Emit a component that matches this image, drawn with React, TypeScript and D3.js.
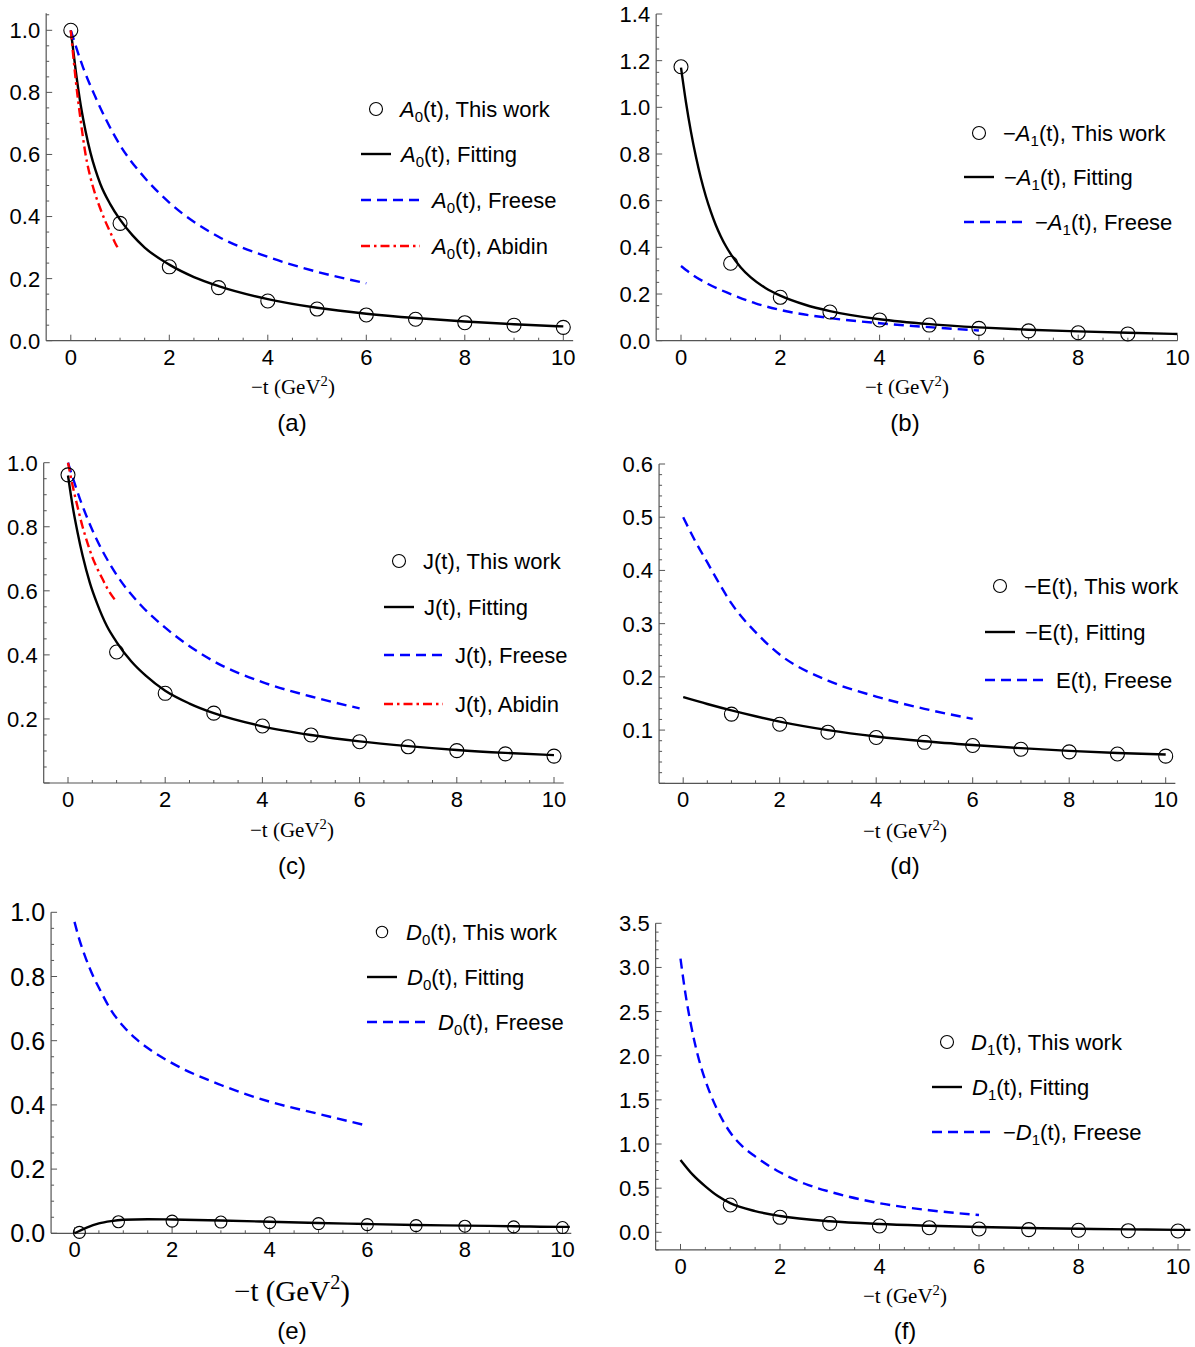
import React from 'react';
import * as d3 from 'd3';

const SANS = '"Liberation Sans", Arial, Helvetica, sans-serif';
const SERIF = '"Liberation Serif", "Times New Roman", serif';
const BLUE = '#0000ff';
const RED = '#ff0000';
const AXIS = '#555555';

const xMajorTicks = [0, 2, 4, 6, 8, 10];

// (a) A0(t)
const aT = [0, 1, 2, 3, 4, 5, 6, 7, 8, 9, 10];
const aThisWork = [1.0, 0.378, 0.238, 0.171, 0.128, 0.102, 0.083, 0.069, 0.058, 0.05, 0.043];
const aFitT = [0, 0.1, 0.2, 0.3, 0.4, 0.5, 0.6, 0.8, 1, 1.25, 1.5, 2, 2.5, 3, 4, 5, 6, 7, 8, 9, 10];
const aFit = [1.0, 0.87, 0.76, 0.675, 0.605, 0.55, 0.505, 0.44, 0.39, 0.34, 0.3, 0.245, 0.205, 0.176, 0.134, 0.106, 0.087, 0.073, 0.062, 0.053, 0.046];
const aFreeseT = [0, 0.25, 0.5, 1, 1.5, 2, 3, 4, 5, 6];
const aFreese = [1.0, 0.88, 0.785, 0.63, 0.525, 0.445, 0.335, 0.27, 0.222, 0.185];
const aAbidinT = [0, 0.1, 0.2, 0.3, 0.4, 0.5, 0.6, 0.7, 0.8, 0.9, 0.97];
const aAbidin = [1.0, 0.84, 0.71, 0.6, 0.525, 0.47, 0.425, 0.385, 0.35, 0.315, 0.295];

// (b) -A1(t)
const bT = [0, 1, 2, 3, 4, 5, 6, 7, 8, 9];
const bThisWork = [1.174, 0.332, 0.186, 0.123, 0.089, 0.067, 0.053, 0.042, 0.034, 0.029];
const bFitT = [0, 0.1, 0.2, 0.3, 0.4, 0.5, 0.6, 0.7, 0.8, 0.9, 1, 1.2, 1.4, 1.7, 2, 2.5, 3, 4, 5, 6, 7, 8, 9, 10];
const bFit = [1.17, 1.022, 0.896, 0.789, 0.697, 0.619, 0.553, 0.496, 0.448, 0.407, 0.372, 0.315, 0.272, 0.226, 0.193, 0.154, 0.127, 0.092, 0.071, 0.057, 0.047, 0.04, 0.034, 0.029];
const bFreeseT = [0, 0.25, 0.5, 1, 1.5, 2, 3, 4, 5, 6];
const bFreese = [0.32, 0.28, 0.248, 0.2, 0.16, 0.132, 0.097, 0.075, 0.058, 0.044];

// (c) J(t)
const cT = [0, 1, 2, 3, 4, 5, 6, 7, 8, 9, 10];
const cThisWork = [0.962, 0.409, 0.28, 0.218, 0.178, 0.15, 0.129, 0.113, 0.101, 0.091, 0.084];
const cFitT = [0, 0.1, 0.2, 0.3, 0.45, 0.6, 0.8, 1, 1.3, 1.6, 2, 2.5, 3, 4, 5, 6, 7, 8, 9, 10];
const cFit = [0.96, 0.86, 0.78, 0.71, 0.625, 0.56, 0.49, 0.44, 0.38, 0.335, 0.288, 0.248, 0.218, 0.177, 0.15, 0.13, 0.115, 0.103, 0.094, 0.087];
const cFreeseT = [0, 0.25, 0.5, 1, 1.5, 2, 3, 4, 5, 6];
const cFreese = [1.0, 0.885, 0.79, 0.65, 0.555, 0.485, 0.38, 0.315, 0.27, 0.233];
const cAbidinT = [0, 0.1, 0.2, 0.3, 0.4, 0.5, 0.6, 0.7, 0.8, 0.96];
const cAbidin = [1.0, 0.925, 0.86, 0.8, 0.75, 0.705, 0.67, 0.64, 0.61, 0.573];

// (d) -E(t)
const dT = [1, 2, 3, 4, 5, 6, 7, 8, 9, 10];
const dThisWork = [0.13, 0.111, 0.096, 0.086, 0.077, 0.071, 0.064, 0.059, 0.055, 0.051];
const dFitT = [0, 0.5, 1, 1.5, 2, 3, 4, 5, 6, 7, 8, 9, 10];
const dFit = [0.162, 0.149, 0.137, 0.126, 0.116, 0.1, 0.088, 0.079, 0.072, 0.066, 0.061, 0.057, 0.054];
const dFreeseT = [0, 0.25, 0.5, 0.75, 1, 1.5, 2, 3, 4, 5, 6];
const dFreese = [0.5, 0.455, 0.415, 0.375, 0.338, 0.284, 0.242, 0.193, 0.163, 0.14, 0.121];

// (e) D0(t)
const eT = [0.1, 0.9, 2, 3, 4, 5, 6, 7, 8, 9, 10];
const eThisWork = [0.003, 0.036, 0.038, 0.035, 0.033, 0.03, 0.027, 0.024, 0.022, 0.02, 0.018];
const eFitT = [0, 0.25, 0.5, 0.75, 1, 1.5, 2, 3, 4, 5, 6, 7, 8, 9, 10, 10.15];
const eFit = [0.0, 0.018, 0.031, 0.038, 0.042, 0.044, 0.043, 0.04, 0.036, 0.032, 0.029, 0.026, 0.024, 0.022, 0.02, 0.02];
const eFreeseT = [0, 0.1, 0.2, 0.3, 0.4, 0.5, 0.75, 1, 1.25, 1.5, 2, 3, 4, 5, 6];
const eFreese = [0.97, 0.915, 0.87, 0.83, 0.795, 0.765, 0.695, 0.645, 0.607, 0.577, 0.53, 0.462, 0.41, 0.372, 0.335];

// (f) D1(t)
const fT = [1, 2, 3, 4, 5, 6, 7, 8, 9, 10];
const fThisWork = [0.309, 0.17, 0.1, 0.071, 0.052, 0.037, 0.03, 0.023, 0.018, 0.015];
const fFitT = [0, 0.25, 0.5, 0.75, 1, 1.5, 2, 3, 4, 5, 6, 7, 8, 9, 10, 10.25];
const fFit = [0.82, 0.65, 0.52, 0.41, 0.33, 0.24, 0.185, 0.125, 0.094, 0.075, 0.06, 0.049, 0.04, 0.033, 0.028, 0.027];
const fFreeseT = [0, 0.1, 0.2, 0.35, 0.5, 0.65, 0.8, 1, 1.25, 1.5, 2, 2.5, 3, 4, 5, 6];
const fFreese = [3.1, 2.7, 2.38, 2.0, 1.72, 1.5, 1.32, 1.13, 0.97, 0.86, 0.68, 0.55, 0.46, 0.33, 0.25, 0.196];

type Kind = 'circle' | 'solid' | 'dashed' | 'dashdot';
type Seg = { s: string; it?: boolean; sub?: boolean };

const sym = (pre: string, letter: string, sub: string, rest: string, italic = true): Seg[] => {
  const out: Seg[] = [];
  if (pre) out.push({ s: pre });
  out.push({ s: letter, it: italic });
  if (sub) out.push({ s: sub, sub: true });
  out.push({ s: rest });
  return out;
};

const styleOf = (k: Kind) => {
  if (k === 'dashed') return { stroke: BLUE, dash: '10,6' };
  if (k === 'dashdot') return { stroke: RED, dash: '9,4,2.5,4' };
  return { stroke: '#000', dash: undefined };
};

const panels = [
  {
    caption: '(a)', x0: 70.8, xUnit: 49.25, xMin: -0.5, xMax: 10.2,
    y0: 340.7, yRefPx: 30.3, yRefVal: 1.0, yMin: 0, yMax: 1.055,
    yMajor: 0.2, yMinor: 0.05, yLabelMin: 0, yTickFs: 22,
    pts: [aT, aThisWork], r: 7,
    curves: [
      { kind: 'solid' as Kind, t: aFitT, v: aFit },
      { kind: 'dashed' as Kind, t: aFreeseT, v: aFreese },
      { kind: 'dashdot' as Kind, t: aAbidinT, v: aAbidin },
    ],
    legX: 361, legY: [109, 154, 200, 246], legR: 6.5,
    legend: [
      { kind: 'circle' as Kind, label: sym('', 'A', '0', '(t), This work') },
      { kind: 'solid' as Kind, label: sym('', 'A', '0', '(t), Fitting') },
      { kind: 'dashed' as Kind, label: sym('', 'A', '0', '(t), Freese') },
      { kind: 'dashdot' as Kind, label: sym('', 'A', '0', '(t), Abidin') },
    ],
    titleX: 293, titleY: 394, titleFs: 21, capX: 292, capY: 431,
  },
  {
    caption: '(b)', x0: 681, xUnit: 49.65, xMin: -0.5, xMax: 10.0,
    y0: 340.7, yRefPx: 14, yRefVal: 1.4, yMin: 0, yMax: 1.4,
    yMajor: 0.2, yMinor: 0.05, yLabelMin: 0, yTickFs: 22,
    pts: [bT, bThisWork], r: 7,
    curves: [
      { kind: 'solid' as Kind, t: bFitT, v: bFit },
      { kind: 'dashed' as Kind, t: bFreeseT, v: bFreese },
    ],
    legX: 964, legY: [133, 177, 222], legR: 6.5,
    legend: [
      { kind: 'circle' as Kind, label: sym('\u2212', 'A', '1', '(t), This work') },
      { kind: 'solid' as Kind, label: sym('\u2212', 'A', '1', '(t), Fitting') },
      { kind: 'dashed' as Kind, label: sym('\u2212', 'A', '1', '(t), Freese') },
    ],
    titleX: 907, titleY: 394, titleFs: 21, capX: 905, capY: 431,
  },
  {
    caption: '(c)', x0: 68, xUnit: 48.6, xMin: -0.5, xMax: 10.2,
    y0: 783, yRefPx: 462.7, yRefVal: 1.0, yMin: 0, yMax: 1.0,
    yMajor: 0.2, yMinor: 0.05, yLabelMin: 0.1, yTickFs: 22,
    pts: [cT, cThisWork], r: 7,
    curves: [
      { kind: 'solid' as Kind, t: cFitT, v: cFit },
      { kind: 'dashed' as Kind, t: cFreeseT, v: cFreese },
      { kind: 'dashdot' as Kind, t: cAbidinT, v: cAbidin },
    ],
    legX: 384, legY: [561, 607, 655, 704], legR: 6.5,
    legend: [
      { kind: 'circle' as Kind, label: sym('', 'J', '', '(t), This work', false) },
      { kind: 'solid' as Kind, label: sym('', 'J', '', '(t), Fitting', false) },
      { kind: 'dashed' as Kind, label: sym('', 'J', '', '(t), Freese', false) },
      { kind: 'dashdot' as Kind, label: sym('', 'J', '', '(t), Abidin', false) },
    ],
    titleX: 292, titleY: 837, titleFs: 21, capX: 292, capY: 874,
  },
  {
    caption: '(d)', x0: 683.2, xUnit: 48.25, xMin: -0.5, xMax: 10.2,
    y0: 783.3, yRefPx: 464, yRefVal: 0.6, yMin: 0, yMax: 0.6,
    yMajor: 0.1, yMinor: 0.02, yLabelMin: 0.05, yTickFs: 22,
    pts: [dT, dThisWork], r: 7,
    curves: [
      { kind: 'solid' as Kind, t: dFitT, v: dFit },
      { kind: 'dashed' as Kind, t: dFreeseT, v: dFreese },
    ],
    legX: 985, legY: [586, 632, 680], legR: 6.5,
    legend: [
      { kind: 'circle' as Kind, label: sym('\u2212', 'E', '', '(t), This work', false) },
      { kind: 'solid' as Kind, label: sym('\u2212', 'E', '', '(t), Fitting', false) },
      { kind: 'dashed' as Kind, label: sym('', 'E', '', '(t), Freese', false) },
    ],
    titleX: 905, titleY: 838, titleFs: 21, capX: 905, capY: 874,
  },
  {
    caption: '(e)', x0: 74.5, xUnit: 48.8, xMin: -0.48, xMax: 10.18,
    y0: 1233.3, yRefPx: 912.3, yRefVal: 1.0, yMin: 0, yMax: 1.0,
    yMajor: 0.2, yMinor: 0.05, yLabelMin: 0, yTickFs: 25,
    pts: [eT, eThisWork], r: 6,
    curves: [
      { kind: 'solid' as Kind, t: eFitT, v: eFit },
      { kind: 'dashed' as Kind, t: eFreeseT, v: eFreese },
    ],
    legX: 367, legY: [932, 977, 1022], legR: 5.7,
    legend: [
      { kind: 'circle' as Kind, label: sym('', 'D', '0', '(t), This work') },
      { kind: 'solid' as Kind, label: sym('', 'D', '0', '(t), Fitting') },
      { kind: 'dashed' as Kind, label: sym('', 'D', '0', '(t), Freese') },
    ],
    titleX: 292, titleY: 1301, titleFs: 29, capX: 292, capY: 1339,
  },
  {
    caption: '(f)', x0: 680.5, xUnit: 49.75, xMin: -0.5, xMax: 10.25,
    y0: 1232.3, yRefPx: 923.3, yRefVal: 3.5, yMin: -0.2, yMax: 3.5,
    yMajor: 0.5, yMinor: 0.1, yLabelMin: 0, yTickFs: 22,
    pts: [fT, fThisWork], r: 7,
    curves: [
      { kind: 'solid' as Kind, t: fFitT, v: fFit },
      { kind: 'dashed' as Kind, t: fFreeseT, v: fFreese },
    ],
    legX: 932, legY: [1042, 1087, 1132], legR: 6.5,
    legend: [
      { kind: 'circle' as Kind, label: sym('', 'D', '1', '(t), This work') },
      { kind: 'solid' as Kind, label: sym('', 'D', '1', '(t), Fitting') },
      { kind: 'dashed' as Kind, label: sym('\u2212', 'D', '1', '(t), Freese') },
    ],
    titleX: 905, titleY: 1303, titleFs: 21, capX: 905, capY: 1339,
  },
];

type P = typeof panels[number];

function LegendText({ x, y, segs }: { x: number; y: number; segs: Seg[] }) {
  let inSub = false;
  return (
    <text x={x} y={y} fontFamily={SANS} fontSize={22} fill="#000">
      {segs.map((g, i) => {
        let dy = 0;
        if (g.sub && !inSub) { dy = 5; inSub = true; }
        else if (!g.sub && inSub) { dy = -5; inSub = false; }
        return (
          <tspan key={i} dy={dy} fontStyle={g.it ? 'italic' : 'normal'} fontSize={g.sub ? 15 : 22}>
            {g.s}
          </tspan>
        );
      })}
    </text>
  );
}

function Panel({ p }: { p: P }) {
  const x = d3.scaleLinear().domain([0, 10]).range([p.x0, p.x0 + 10 * p.xUnit]);
  const y = d3.scaleLinear().domain([0, p.yRefVal]).range([p.y0, p.yRefPx]);
  const axX = x(p.xMin);
  const axY = y(p.yMin);
  const fmt = d3.format('.1f');

  const xTicks = d3.range(0, 21).map(i => i * 0.5);
  const n0 = Math.ceil(p.yMin / p.yMinor - 1e-6);
  const n1 = Math.floor(p.yMax / p.yMinor + 1e-6);
  const yTicks = d3.range(n0, n1 + 1).map(i => +(i * p.yMinor).toFixed(6));
  const isMajor = (v: number) => Math.abs(v / p.yMajor - Math.round(v / p.yMajor)) < 1e-6;

  const line = d3.line<[number, number]>()
    .x(d => x(d[0]))
    .y(d => y(d[1]))
    .curve(d3.curveMonotoneX);

  const [pt, pv] = p.pts;

  return (
    <g>
      {/* axes */}
      <line x1={axX} x2={x(p.xMax)} y1={axY} y2={axY} stroke={AXIS} strokeWidth={1.2} />
      <line x1={axX} x2={axX} y1={axY} y2={y(p.yMax)} stroke={AXIS} strokeWidth={1.2} />
      {xTicks.map(t => (
        <line key={'xt' + t} x1={x(t)} x2={x(t)} y1={axY} y2={axY - (xMajorTicks.includes(t) ? 6 : 3)}
          stroke={AXIS} strokeWidth={1} />
      ))}
      {xMajorTicks.map(t => (
        <text key={'xl' + t} x={x(t)} y={axY + 24} textAnchor="middle" fontFamily={SANS} fontSize={22} fill="#000">
          {t}
        </text>
      ))}
      {yTicks.map(v => (
        <line key={'yt' + v} x1={axX} x2={axX + (isMajor(v) ? 6 : 3)} y1={y(v)} y2={y(v)}
          stroke={AXIS} strokeWidth={1} />
      ))}
      {yTicks.filter(v => isMajor(v) && v >= p.yLabelMin - 1e-9).map(v => (
        <text key={'yl' + v} x={axX - 6} y={y(v) + p.yTickFs * 0.36} textAnchor="end"
          fontFamily={SANS} fontSize={p.yTickFs} fill="#000">
          {fmt(v)}
        </text>
      ))}

      {/* curves */}
      {p.curves.map((c, i) => {
        const st = styleOf(c.kind);
        return (
          <path key={'c' + i} d={line(d3.zip(c.t, c.v) as [number, number][]) || ''}
            fill="none" stroke={st.stroke} strokeWidth={2.4} strokeDasharray={st.dash} />
        );
      })}

      {/* data points */}
      {pt.map((t, i) => (
        <circle key={'p' + i} cx={x(t)} cy={y(pv[i])} r={p.r} fill="none" stroke="#000" strokeWidth={1.1} />
      ))}

      {/* legend */}
      {p.legend.map((it, i) => {
        const ly = p.legY[i];
        const st = styleOf(it.kind);
        if (it.kind === 'circle') {
          return (
            <g key={'lg' + i}>
              <circle cx={p.legX + 15} cy={ly} r={p.legR} fill="none" stroke="#000" strokeWidth={1.1} />
              <LegendText x={p.legX + 39} y={ly + 8} segs={it.label} />
            </g>
          );
        }
        const len = it.kind === 'solid' ? 30 : 59;
        const tx = it.kind === 'solid' ? p.legX + 40 : p.legX + 71;
        return (
          <g key={'lg' + i}>
            <line x1={p.legX} x2={p.legX + len} y1={ly} y2={ly} stroke={st.stroke}
              strokeWidth={2.4} strokeDasharray={st.dash} />
            <LegendText x={tx} y={ly + 8} segs={it.label} />
          </g>
        );
      })}

      {/* axis title and caption */}
      <text x={p.titleX} y={p.titleY} textAnchor="middle" fontFamily={SERIF} fontSize={p.titleFs} fill="#000">
        <tspan>{'\u2212t (GeV'}</tspan>
        <tspan fontSize={p.titleFs * 0.7} dy={-p.titleFs * 0.4}>2</tspan>
        <tspan dy={p.titleFs * 0.4}>)</tspan>
      </text>
      <text x={p.capX} y={p.capY} textAnchor="middle" fontFamily={SANS} fontSize={24} fill="#000">
        {p.caption}
      </text>
    </g>
  );
}

export default function App() {
  return (
    <div style={{ position: 'absolute', left: 0, top: 0 }}>
      <svg width={1195} height={1347} viewBox="0 0 1195 1347" style={{ display: 'block', background: '#fff' }}>
        <rect x={0} y={0} width={1195} height={1347} fill="#fff" />
        {panels.map((p, i) => <Panel key={i} p={p} />)}
      </svg>
    </div>
  );
}
